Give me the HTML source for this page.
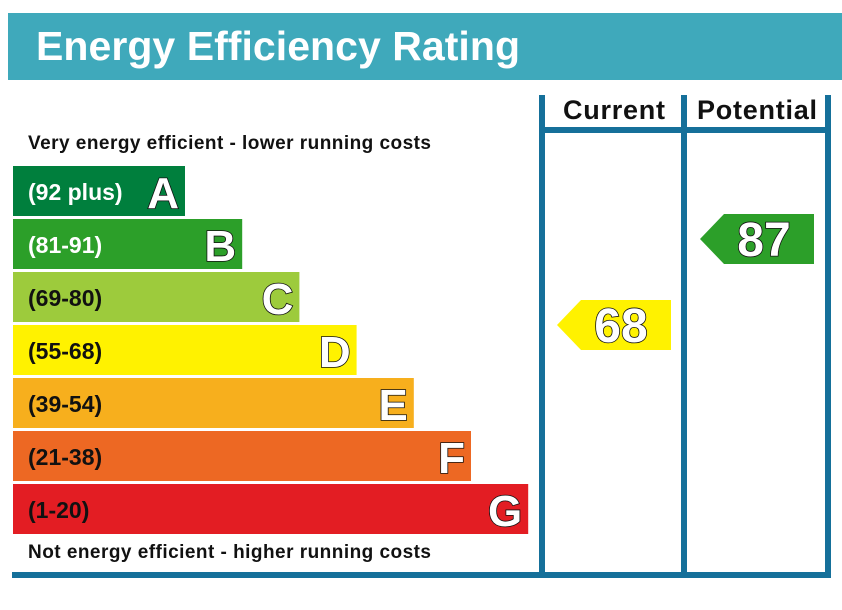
<!DOCTYPE html>
<html><head><meta charset="utf-8"><style>
html,body{margin:0;padding:0;background:#fff}
svg{display:block;font-family:"Liberation Sans",Arial,sans-serif;font-weight:bold}
</style></head><body>
<svg id="c" width="842" height="610" viewBox="0 0 842 610">
<rect x="8" y="13" width="834" height="67" fill="#3fa9bb"/>
<text x="36" y="60" font-size="41" fill="#fff" textLength="484">Energy Efficiency Rating</text>
<text x="28" y="149" font-size="19" fill="#111" textLength="403">Very energy efficient - lower running costs</text>
<text x="28" y="558" font-size="19" fill="#111" textLength="403">Not energy efficient - higher running costs</text>
<g id="frame" fill="#15709a">
<rect x="539" y="95" width="6" height="483"/>
<rect x="681" y="95" width="6" height="483"/>
<rect x="825" y="95" width="6" height="483"/>
<rect x="539" y="127" width="292" height="6"/>
<rect x="12" y="572" width="819" height="6"/>
</g>
<text x="614" y="119" font-size="27" text-anchor="middle" fill="#111" textLength="102">Current</text>
<text x="757" y="119" font-size="27" text-anchor="middle" fill="#111" textLength="120">Potential</text>
<g id="bands"></g>
<g id="arrows"></g>
</svg>
<script>
const bandLetters=["A","B","C","D","E","F","G"];
const bandRanges=["(92 plus)","(81-91)","(69-80)","(55-68)","(39-54)","(21-38)","(1-20)"];
const bandColors=["#007f3d","#2c9f29","#9dcb3c","#fff200","#f7af1d","#ed6823","#e31d23"];
const currentScore=68;
const potentialScore=87;
const NS="http://www.w3.org/2000/svg";
function mk(t,a,p){const e=document.createElementNS(NS,t);for(const k in a)e.setAttribute(k,a[k]);p.appendChild(e);return e;}
const bands=document.getElementById('bands');
bandLetters.forEach((L,i)=>{
  const y=166+i*53, w=172+i*57.2;
  const g=mk('g',{},bands);
  
  
  mk('rect',{x:13,y:y,width:w,height:50,fill:bandColors[i]},g);
  const t=mk('text',{x:28,y:y+34,'font-size':23,fill:i<2?'#fff':'#111'},g);t.textContent=bandRanges[i];
  const l=mk('text',{x:13+w-6,y:y+42,'font-size':44,'text-anchor':'end',fill:'#fff',stroke:'#111','stroke-width':1.6,'paint-order':'stroke'},g);l.textContent=L;
});
function yScore(s){return 325+(68-s)*(86/19);}
function bandIndex(s){return s>=92?0:s>=81?1:s>=69?2:s>=55?3:s>=39?4:s>=21?5:6;}
function arrow(s,x0,name){
  const cy=yScore(s),h=50,x1=x0+114;
  const g=mk('g',{},document.getElementById('arrows'));
  
  
  mk('polygon',{points:`${x0},${cy} ${x0+24},${cy-h/2} ${x1},${cy-h/2} ${x1},${cy+h/2} ${x0+24},${cy+h/2}`,fill:bandColors[bandIndex(s)]},g);
  const t=mk('text',{x:x0+64,y:cy+17,'font-size':48,'text-anchor':'middle',fill:'#fff',stroke:'#111','stroke-width':1.6,'paint-order':'stroke'},g);t.textContent=s;
}
arrow(currentScore,557,'current-rating-arrow');
arrow(potentialScore,700,'potential-rating-arrow');
</script>
</body></html>
